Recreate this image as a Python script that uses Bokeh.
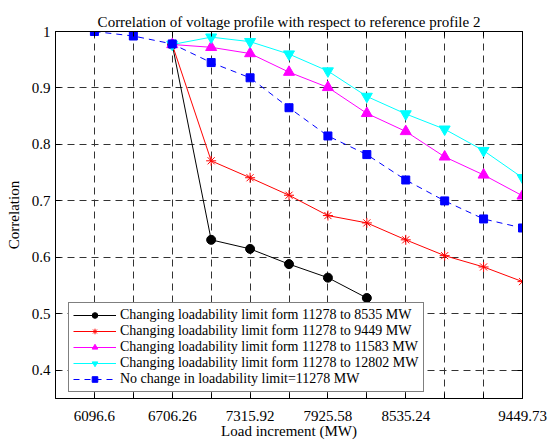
from bokeh.plotting import figure
from bokeh.models import (FixedTicker, CustomJSTickFormatter, LinearAxis, Legend,
                          LegendItem, Range1d, Grid)
from bokeh.embed import file_html
from bokeh.resources import INLINE

# ---- data -------------------------------------------------------------
load_mw = [6096.6, 6401.43, 6706.26, 7011.09, 7315.92, 7620.75,
           7925.58, 8230.41, 8535.24, 8840.07, 9144.90, 9449.73]
x_tick_labels = ["6096.6", "", "6706.26", "", "7315.92", "", "7925.58", "",
                 "8535.24", "", "", "9449.73"]
y_ticks = [0.4, 0.5, 0.6, 0.7, 0.8, 0.9, 1.0]
y_tick_labels = ["0.4", "0.5", "0.6", "0.7", "0.8", "0.9", "1"]

x_8535 = load_mw[2:8]
y_8535 = [0.977, 0.631, 0.615, 0.588, 0.564, 0.528]
x_9449 = load_mw[2:]
y_9449 = [0.977, 0.771, 0.741, 0.710, 0.674, 0.661, 0.631, 0.603, 0.583, 0.557]
x_11583 = load_mw[2:]
y_11583 = [0.977, 0.972, 0.961, 0.928, 0.901, 0.855, 0.823, 0.778, 0.746, 0.709]
x_12802 = load_mw[2:]
y_12802 = [0.977, 0.990, 0.982, 0.960, 0.930, 0.885, 0.854, 0.827, 0.789, 0.741]
x_nochange = load_mw
y_nochange = [1.0, 0.992, 0.978, 0.945, 0.918, 0.865, 0.815, 0.782, 0.737,
              0.700, 0.668, 0.652]

labels = ["Changing loadability limit form 11278 to 8535 MW",
          "Changing loadability limit form 11278 to 9449 MW",
          "Changing loadability limit form 11278 to 11583 MW",
          "Changing loadability limit form 11278 to 12802 MW",
          "No change in loadability limit=11278 MW"]

FONT = "Liberation Serif"

x_start = load_mw[0] - (load_mw[1] - load_mw[0])
p = figure(width=548, height=441, output_backend="svg", toolbar_location=None,
           x_range=Range1d(x_start, load_mw[-1]), y_range=Range1d(0.35, 1.0),
           min_border_left=55, min_border_right=26, min_border_top=31,
           min_border_bottom=43, x_axis_type=None, y_axis_type=None)
p.background_fill_color = "white"
p.border_fill_color = "white"
p.outline_line_color = "black"
p.outline_line_width = 1

xticker = FixedTicker(ticks=load_mw, minor_ticks=[])
yticker = FixedTicker(ticks=y_ticks, minor_ticks=[])

lookup_code = """
let best = -1, bd = 1e9;
for (let i = 0; i < vals.length; i++) {
  const d = Math.abs(vals[i] - tick);
  if (d < bd) { bd = d; best = i; }
}
return bd < 1e-6 ? labs[best] : "";
"""
xfmt = CustomJSTickFormatter(args=dict(vals=load_mw, labs=x_tick_labels), code=lookup_code)
yfmt = CustomJSTickFormatter(args=dict(vals=y_ticks, labs=y_tick_labels), code=lookup_code)
blank = CustomJSTickFormatter(code="return '';")


def style_axis(ax, show_labels):
    ax.axis_line_color = "black"
    ax.axis_line_width = 1
    ax.major_tick_line_color = "black"
    ax.major_tick_in = 5
    ax.major_tick_out = 0
    ax.minor_tick_line_color = None
    ax.major_label_text_font = FONT
    ax.major_label_text_color = "black"
    ax.axis_label_text_font = FONT
    ax.axis_label_text_font_style = "normal"
    ax.axis_label_text_color = "black"
    if show_labels:
        ax.major_label_text_font_size = "15px"
        ax.axis_label_text_font_size = "15px"
    else:
        ax.major_label_text_font_size = "0px"
        ax.major_label_standoff = 0


xb = LinearAxis(ticker=xticker, formatter=xfmt, axis_label="Load increment (MW)")
style_axis(xb, True)
xb.major_label_standoff = 12
xb.axis_label_standoff = -1
p.add_layout(xb, "below")

yl = LinearAxis(ticker=yticker, formatter=yfmt, axis_label="Correlation")
style_axis(yl, True)
yl.major_label_standoff = 5
yl.axis_label_standoff = 7
p.add_layout(yl, "left")

xt = LinearAxis(ticker=xticker, formatter=blank)
style_axis(xt, False)
p.add_layout(xt, "above")
yr = LinearAxis(ticker=yticker, formatter=blank)
style_axis(yr, False)
p.add_layout(yr, "right")

for dim, tk in ((0, xticker), (1, yticker)):
    g = Grid(dimension=dim, ticker=tk, grid_line_color="#333333",
             grid_line_dash="7 5", grid_line_width=1)
    p.add_layout(g)

p.title.text = "Correlation of voltage profile with respect to reference profile 2"
p.title.text_font = FONT
p.title.text_font_size = "15px"
p.title.text_font_style = "normal"
p.title.text_color = "black"
p.title.align = "center"
p.title.vertical_align = "top"
p.title.standoff = 0

items = []
l1 = p.line(x_8535, y_8535, line_color="black", line_width=1)
m1 = p.scatter(x_8535, y_8535, marker="circle", size=9, fill_color="black", line_color="black")
items.append(LegendItem(label=labels[0], renderers=[l1, m1]))

l2 = p.line(x_9449, y_9449, line_color="#ff0000", line_width=1)
m2 = p.scatter(x_9449, y_9449, marker="asterisk", size=10, line_color="#ff0000", line_width=1)
items.append(LegendItem(label=labels[1], renderers=[l2, m2]))

l3 = p.line(x_11583, y_11583, line_color="#ff00ff", line_width=1)
m3 = p.scatter(x_11583, y_11583, marker="triangle", size=11, fill_color="#ff00ff", line_color="#ff00ff")
items.append(LegendItem(label=labels[2], renderers=[l3, m3]))

l4 = p.line(x_12802, y_12802, line_color="#00ffff", line_width=1)
m4 = p.scatter(x_12802, y_12802, marker="inverted_triangle", size=11, fill_color="#00ffff", line_color="#00ffff")
items.append(LegendItem(label=labels[3], renderers=[l4, m4]))

l5 = p.line(x_nochange, y_nochange, line_color="#0000ff", line_width=1, line_dash="6 5")
m5 = p.scatter(x_nochange, y_nochange, marker="square", size=8, fill_color="#0000ff", line_color="#0000ff")
items.append(LegendItem(label=labels[4], renderers=[l5, m5]))

legend = Legend(items=items, location=(13, 6))
legend.label_text_font = FONT
legend.label_text_font_size = "14px"
legend.label_text_color = "black"
legend.label_height = 14
legend.label_standoff = 4
legend.glyph_width = 43
legend.glyph_height = 14
legend.spacing = 0
legend.padding = 4
legend.margin = 0
legend.border_line_color = "black"
legend.border_line_width = 1
legend.background_fill_color = "white"
legend.background_fill_alpha = 1
p.add_layout(legend, "center")

open("out.html", "w").write(file_html(p, INLINE))
